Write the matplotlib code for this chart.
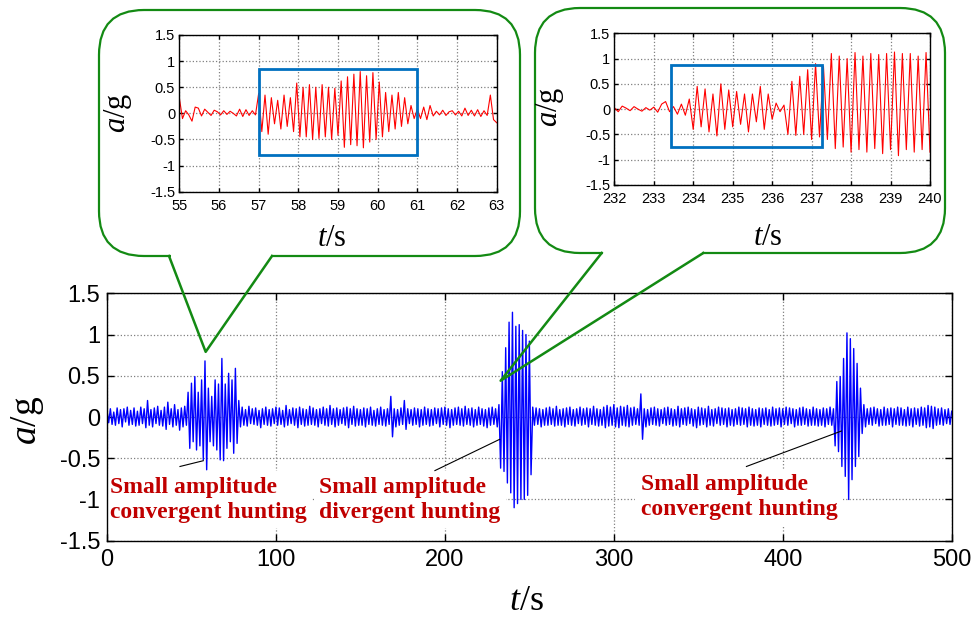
import numpy as np
import matplotlib
matplotlib.use('Agg')
import matplotlib.pyplot as plt
from matplotlib.patches import FancyBboxPatch, Rectangle

plt.rcParams['font.family'] = ['Liberation Sans', 'DejaVu Sans']
plt.rcParams['axes.unicode_minus'] = False
plt.rcParams['mathtext.fontset'] = 'custom'
plt.rcParams['mathtext.rm'] = 'Liberation Serif'
plt.rcParams['mathtext.it'] = 'Liberation Serif:italic'

# ---------------- data ----------------
main_step = 1.0  # s between plotted samples
acc_000_099 = [0.08, -0.07, 0.1, -0.09, 0.06, -0.1, 0.11, -0.08, 0.09, -0.12,
               0.1, -0.06, 0.12, -0.1, 0.08, -0.09, 0.11, -0.11, 0.07, -0.1,
               0.12, -0.08, 0.1, -0.13, 0.2, -0.1, 0.09, -0.12, 0.11, -0.08,
               0.13, -0.1, 0.08, -0.11, 0.12, -0.15, 0.18, -0.09, 0.1, -0.12,
               0.15, -0.1, 0.09, -0.16, 0.11, -0.12, 0.13, -0.1, 0.3, -0.38,
               0.41, -0.3, 0.49, -0.4, 0.3, -0.35, 0.45, -0.52, 0.68, -0.64,
               0.35, -0.3, 0.25, -0.35, 0.45, -0.4, 0.4, -0.52, 0.71, -0.53,
               0.4, -0.38, 0.53, -0.3, 0.45, -0.44, 0.59, -0.32, 0.2, -0.12,
               0.12, -0.1, 0.09, -0.11, 0.13, -0.08, 0.1, -0.09, 0.11, -0.1,
               0.08, -0.13, 0.1, -0.09, 0.12, -0.1, 0.09, -0.11, 0.1, -0.08]
acc_100_199 = [0.12, -0.1, 0.11, -0.09, 0.08, -0.12, 0.14, -0.1, 0.09, -0.08,
               0.11, -0.1, 0.1, -0.13, 0.12, -0.09, 0.1, -0.11, 0.09, -0.1,
               0.13, -0.09, 0.11, -0.1, 0.09, -0.12, 0.1, -0.08, 0.12, -0.1,
               0.1, -0.11, 0.14, -0.09, 0.1, -0.12, 0.11, -0.1, 0.09, -0.08,
               0.11, -0.1, 0.12, -0.13, 0.1, -0.09, 0.13, -0.11, 0.1, -0.1,
               0.09, -0.1, 0.11, -0.12, 0.1, -0.09, 0.12, -0.1, 0.08, -0.11,
               0.1, -0.09, 0.12, -0.1, 0.09, -0.11, 0.1, -0.09, 0.25, -0.24,
               0.1, -0.12, 0.09, -0.1, 0.11, -0.09, 0.2, -0.15, 0.1, -0.08,
               0.09, -0.1, 0.11, -0.09, 0.1, -0.12, 0.09, -0.1, 0.12, -0.09,
               0.1, -0.11, 0.09, -0.1, 0.11, -0.08, 0.1, -0.12, 0.11, -0.09]
acc_200_299 = [0.12, -0.1, 0.1, -0.13, 0.09, -0.1, 0.11, -0.09, 0.12, -0.1,
               0.1, -0.11, 0.13, -0.09, 0.1, -0.1, 0.11, -0.12, 0.09, -0.1,
               0.12, -0.09, 0.1, -0.11, 0.09, -0.13, 0.11, -0.1, 0.12, -0.09,
               0.1, -0.12, 0.15, -0.62, 0.55, -0.66, 0.84, -0.8, 1.15, -0.92,
               1.27, -1.1, 1.1, -1.05, 1.12, -1.0, 1.05, -1.0, 1.0, -0.95,
               0.92, -0.7, 0.12, -0.1, 0.11, -0.09, 0.1, -0.12, 0.09, -0.1,
               0.11, -0.1, 0.12, -0.09, 0.1, -0.11, 0.13, -0.1, 0.09, -0.1,
               0.1, -0.12, 0.11, -0.09, 0.12, -0.1, 0.09, -0.11, 0.1, -0.08,
               0.12, -0.1, 0.1, -0.09, 0.11, -0.12, 0.1, -0.09, 0.13, -0.1,
               0.1, -0.11, 0.09, -0.1, 0.12, -0.13, 0.14, -0.11, 0.12, -0.1]
acc_300_399 = [0.15, -0.12, 0.11, -0.13, 0.13, -0.1, 0.12, -0.11, 0.14, -0.12,
               0.11, -0.1, 0.12, -0.09, 0.1, -0.1, 0.28, -0.27, 0.1, -0.12,
               0.09, -0.1, 0.11, -0.09, 0.12, -0.1, 0.1, -0.11, 0.09, -0.08,
               0.11, -0.1, 0.12, -0.09, 0.1, -0.11, 0.09, -0.1, 0.13, -0.12,
               0.1, -0.09, 0.11, -0.1, 0.12, -0.08, 0.1, -0.11, 0.09, -0.13,
               0.12, -0.1, 0.11, -0.09, 0.1, -0.12, 0.13, -0.1, 0.09, -0.11,
               0.1, -0.08, 0.12, -0.1, 0.11, -0.09, 0.1, -0.12, 0.11, -0.1,
               0.09, -0.11, 0.1, -0.09, 0.12, -0.1, 0.11, -0.09, 0.1, -0.12,
               0.12, -0.1, 0.1, -0.11, 0.09, -0.1, 0.11, -0.12, 0.1, -0.09,
               0.11, -0.1, 0.09, -0.11, 0.12, -0.1, 0.1, -0.09, 0.11, -0.12]
acc_400_500 = [0.1, -0.09, 0.12, -0.1, 0.11, -0.08, 0.1, -0.12, 0.09, -0.1,
               0.11, -0.1, 0.12, -0.09, 0.1, -0.11, 0.09, -0.1, 0.12, -0.1,
               0.1, -0.11, 0.09, -0.1, 0.11, -0.12, 0.1, -0.09, 0.12, -0.1,
               0.1, -0.35, 0.43, -0.42, 0.49, -0.6, 0.71, -0.72, 1.02, -1.0,
               0.95, -0.76, 0.83, -0.6, 0.65, -0.48, 0.35, -0.2, 0.15, -0.12,
               0.1, -0.09, 0.11, -0.1, 0.12, -0.08, 0.1, -0.11, 0.09, -0.1,
               0.12, -0.1, 0.1, -0.09, 0.11, -0.12, 0.1, -0.09, 0.12, -0.1,
               0.11, -0.1, 0.09, -0.11, 0.12, -0.1, 0.1, -0.12, 0.11, -0.09,
               0.1, -0.11, 0.12, -0.1, 0.11, -0.13, 0.14, -0.12, 0.13, -0.14,
               0.12, -0.1, 0.1, -0.09, 0.11, -0.1, 0.09, -0.08, 0.1, -0.09,
               0.07]
main_acc = np.array(acc_000_099 + acc_100_199 + acc_200_299 + acc_300_399 + acc_400_500)
main_t = np.arange(len(main_acc)) * main_step

inset1_start, inset1_step = 55.0, 0.08
inset1_acc = [0.3, -0.1, 0.05, -0.03, -0.15, 0.12, 0.1, -0.05, 0.08, 0.02, -0.04, 0.06,
              0.03, -0.03, 0.05, -0.02, 0.04, 0.0, -0.05, 0.08, -0.06, 0.07, -0.04, 0.05,
              -0.03,
              0.38, -0.35, 0.35, -0.4, 0.3, -0.2, 0.25, -0.3, 0.35, -0.25,
              0.3, -0.35, 0.58, -0.45, 0.5, -0.45, 0.55, -0.5, 0.5, -0.48,
              0.55, -0.45, 0.5, -0.5, 0.48, -0.42, 0.62, -0.65, 0.7, -0.6,
              0.75, -0.62, 0.8, -0.66, 0.72, -0.55, 0.78, -0.5, 0.6, -0.45,
              0.4, -0.35, 0.35, -0.3, 0.4, -0.25, 0.3, -0.2, 0.15, -0.1, 0.08,
              -0.1, 0.12, -0.12, 0.15, -0.05, 0.04, -0.03, 0.06, -0.04, 0.03,
              0.05, -0.03, 0.04, -0.05, 0.1, -0.04, 0.06, -0.05, 0.07, -0.06,
              0.05, -0.04, 0.35, -0.12, -0.18]
inset2_start, inset2_step = 232.0, 0.1
inset2_acc = [0.03, -0.05, 0.06, 0.02, -0.03, 0.05, 0.0, -0.04, 0.03, -0.02, 0.04, -0.06,
              0.1, 0.15, -0.05, 0.05, -0.1, 0.1, -0.12, 0.2, -0.4, 0.45, -0.35,
              0.4, -0.45, 0.3, -0.53, 0.5, -0.4, 0.38, -0.35, 0.35, -0.3,
              0.3, -0.45, 0.3, -0.25, 0.45, -0.4, 0.3, -0.2, 0.12, -0.05,
              0.08, -0.5, 0.55, -0.52, 0.65, -0.5, 0.78, -0.6, 0.9, -0.55,
              0.85, -0.6, 1.1, -0.78, 1.05, -0.75, 1.0, -0.85, 1.12, -0.8,
              1.05, -0.85, 1.1, -0.78, 1.08, -0.88, 1.1, -0.8, 1.13, -0.92,
              1.1, -0.8, 1.1, -0.85, 1.05, -0.8, 1.12, -0.85]
inset1_t = inset1_start + np.arange(len(inset1_acc)) * inset1_step
inset2_t = inset2_start + np.arange(len(inset2_acc)) * inset2_step

y_ticks = [-1.5, -1, -0.5, 0, 0.5, 1, 1.5]
y_ticklabels = ['-1.5', '-1', '-0.5', '0', '0.5', '1', '1.5']
main_xticks = [0, 100, 200, 300, 400, 500]
inset1_xticks = [55, 56, 57, 58, 59, 60, 61, 62, 63]
inset2_xticks = [232, 233, 234, 235, 236, 237, 238, 239, 240]
box1 = (57.0, -0.79, 61.0, 0.84)
box2 = (233.43, -0.74, 237.27, 0.88)
tip1 = (58.4, 0.79)
tip2 = (233.0, 0.44)
notes = [("Small amplitude\nconvergent hunting", (1.8, -0.725), (43.2, -0.60), (57.0, -0.53)),
         ("Small amplitude\ndivergent hunting", (125.6, -0.725), (194.1, -0.65), (232.5, -0.27)),
         ("Small amplitude\nconvergent hunting", (316.0, -0.695), (378.5, -0.60), (434.7, -0.17))]

# ---------------- figure ----------------
W, H = 976, 618
fig = plt.figure(figsize=(W / 100, H / 100), dpi=100)


def px_axes(x0, y0, x1, y1, **kw):
    return fig.add_axes([x0 / W, 1 - y1 / H, (x1 - x0) / W, (y1 - y0) / H], **kw)


def style(ax, xticks, fs, pad_x, pad_y, ticklen):
    ax.set_yticks(y_ticks)
    ax.set_yticklabels(y_ticklabels)
    ax.set_xticks(xticks)
    ax.set_xticklabels([str(v) for v in xticks])
    ax.set_ylim(-1.5, 1.5)
    ax.set_xlim(xticks[0], xticks[-1])
    ax.tick_params(direction='in', top=True, right=True, length=ticklen, width=1,
                   labelsize=fs, colors='black')
    ax.tick_params(axis='x', pad=pad_x)
    ax.tick_params(axis='y', pad=pad_y)
    ax.grid(True, color='#808080', linestyle=':', linewidth=0.9)
    ax.set_axisbelow(True)
    for s in ax.spines.values():
        s.set_linewidth(1.0)
        s.set_color('black')


ax = px_axes(107, 293.3, 951.7, 540.7, zorder=0)
style(ax, main_xticks, 17, 6, 5, 5)
ax.plot(main_t, main_acc, color='#0000FF', linewidth=1.0, zorder=2)

for text, txy, l0, l1 in notes:
    ax.text(txy[0], txy[1], text, ha='left', va='top', color='#C00000',
            fontsize=17, fontweight='bold', family='Liberation Serif',
            linespacing=1.25, zorder=1.5,
            bbox=dict(facecolor='white', edgecolor='none', pad=4))
    ax.plot([l0[0], l1[0]], [l0[1], l1[1]], color='black', linewidth=0.8, zorder=3)

serif = 'Liberation Serif'
fig.text(28 / W, 1 - 420 / H, r'$a$/g', rotation=90, ha='center', va='center',
         fontsize=27, family=serif)
fig.text(526.7 / W, 1 - 601 / H, r'$t$/s', ha='center', va='center',
         fontsize=26, family=serif)

# overlay for callout bubbles
ov = fig.add_axes([0, 0, 1, 1], zorder=1)
ov.set_xlim(0, W)
ov.set_ylim(H, 0)
ov.axis('off')
ov.patch.set_alpha(0)


def to_ov(xy):
    return ov.transData.inverted().transform(ax.transData.transform(xy))


green = '#138a13'
bubbles = [((99, 10, 520, 256), (169, 272), tip1),
           ((535, 8, 945, 253), (601.7, 703.3), tip2)]
for (x0, y0, x1, y1), (b0, b1), tip in bubbles:
    ov.add_patch(FancyBboxPatch((x0, y0), x1 - x0, y1 - y0,
                                boxstyle='round,pad=0,rounding_size=45',
                                facecolor='white', edgecolor=green, linewidth=1.6))
    ov.plot([b0 + 1.5, b1 - 1.5], [y1, y1], color='white', linewidth=3, solid_capstyle='butt')
    tx, ty = to_ov(tip)
    ov.plot([b0, tx, b1], [y1, ty, y1], color=green, linewidth=1.8)

# insets
ins1 = px_axes(179.3, 35, 496.7, 191.7, zorder=2)
style(ins1, inset1_xticks, 10.5, 5, 3, 3)
ins1.plot(inset1_t, inset1_acc, color='red', linewidth=0.8)
ins1.add_patch(Rectangle((box1[0], box1[1]), box1[2] - box1[0], box1[3] - box1[1],
                         fill=False, edgecolor='#0070C0', linewidth=2, zorder=3))

ins2 = px_axes(614.3, 33.3, 930, 185, zorder=2)
style(ins2, inset2_xticks, 10.5, 5, 3, 3)
ins2.plot(inset2_t, inset2_acc, color='red', linewidth=0.8)
ins2.add_patch(Rectangle((box2[0], box2[1]), box2[2] - box2[0], box2[3] - box2[1],
                         fill=False, edgecolor='#0070C0', linewidth=2, zorder=3))

fig.text(118 / W, 1 - 113 / H, r'$a$/g', rotation=90, ha='center', va='center',
         fontsize=22, family=serif, zorder=5)
fig.text(331.7 / W, 1 - 239 / H, r'$t$/s', ha='center', va='center',
         fontsize=22, family=serif, zorder=5)
fig.text(550 / W, 1 - 107 / H, r'$a$/g', rotation=90, ha='center', va='center',
         fontsize=22, family=serif, zorder=5)
fig.text(768 / W, 1 - 237 / H, r'$t$/s', ha='center', va='center',
         fontsize=22, family=serif, zorder=5)

fig.savefig('out.png', dpi=100)
